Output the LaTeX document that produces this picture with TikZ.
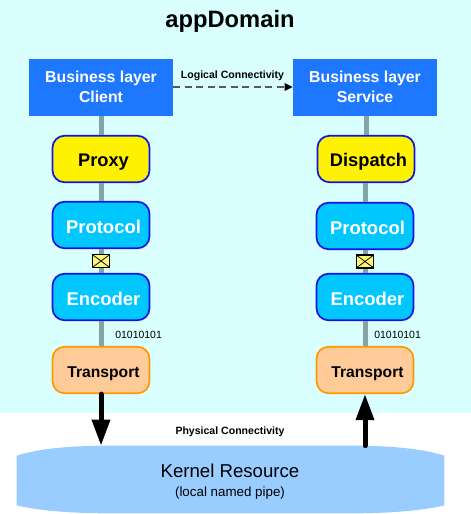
\documentclass[tikz,border=0pt]{standalone}
\usepackage{fontspec}
\setsansfont{Liberation Sans}
\usetikzlibrary{backgrounds, arrows.meta, positioning, calc}
\definecolor{zona}{HTML}{D9FFFF}
\definecolor{azul}{HTML}{1E78FF}
\definecolor{ciano}{HTML}{00C8FF}
\definecolor{borda}{HTML}{1414E6}
\definecolor{pele}{HTML}{FFCC99}
\definecolor{laranja}{HTML}{FF9900}
\definecolor{nucleo}{HTML}{99CCFF}
\definecolor{haste}{HTML}{86A3A8}
\tikzset{
  biz/.style = {rectangle, fill=azul, text=white, align=center, inner sep=0pt,
    minimum width=28.8mm, minimum height=11.4mm, font=\sffamily\bfseries\fontsize{9}{11}\selectfont},
  caixa/.style = {rectangle, rounded corners=2.4mm, draw=borda, line width=0.35mm,
    inner sep=0pt, minimum width=19.4mm, minimum height=9.3mm,
    execute at begin node={\hspace*{1mm}}},
  proxy/.style = {caixa, fill=yellow, text height=3.3mm, text depth=0.3mm,
    font=\sffamily\bfseries\fontsize{10.4}{12}\selectfont},
  proto/.style = {caixa, fill=ciano, text=white, text height=3.55mm, text depth=0.3mm,
    font=\sffamily\bfseries\fontsize{10.5}{12}\selectfont},
  transp/.style = {caixa, draw=laranja, fill=pele, text height=3mm, text depth=0.2mm,
    font=\sffamily\bfseries\fontsize{8.9}{11}\selectfont},
  bits/.style = {font=\sffamily\fontsize{5.95}{7}\selectfont, anchor=west, inner sep=0pt},
  rot/.style = {font=\sffamily\bfseries\fontsize{6}{8}\selectfont, inner sep=0pt},
  liga/.style = {draw=haste, line width=1mm},
  seta/.style = {-{Triangle[length=5.2mm, width=3.5mm]}, line width=1mm, line cap=round, draw=black},
  tracos/.style = {dash pattern=on 1.4mm off 0.9mm, draw=black!65, line width=0.35mm,
    -{Triangle[length=1.6mm, width=1.5mm, black]}},
  carta/.style = {rectangle, draw=black, line width=0.25mm, fill=yellow!55, inner sep=0pt,
    minimum width=3.5mm, minimum height=2.6mm,
    path picture={\draw [line width=0.15mm]
      (path picture bounding box.north west) -- (path picture bounding box.center)
      -- (path picture bounding box.north east)
      (path picture bounding box.south west) -- (path picture bounding box.center)
      -- (path picture bounding box.south east);}}
}
\begin{document}
\begin{tikzpicture}[x=0.2mm, y=-0.2mm]
  \useasboundingbox (0,0) rectangle (471,514);
  \fill [zona] (0,0) rectangle (471,413);
  \node [font=\sffamily\bfseries\fontsize{13.5}{16}\selectfont, inner sep=0pt] (titulo) at (230,21) {appDomain};

  \node [biz] (clienteb) at (101,87) {Business layer\\Client};
  \node [biz] (servicob) at (365,87) {Business layer\\Service};
  \node [proxy] (proxy) at (101,159) {Proxy};
  \node [proxy] (dispatch) at (366,159) {Dispatch};
  \node [proto] (protoc) at (101,225) {Protocol};
  \node [proto] (protos) at (365,226) {Protocol};
  \node [proto] (encc) at (101,297) {Encoder};
  \node [proto] (encs) at (365,297) {Encoder};
  \node [transp] (transc) at (101,370) {Transport};
  \node [transp] (transs) at (365,370) {Transport};

  \node [minimum width=85.4mm, minimum height=13.4mm, inner sep=0pt] (kernel) at (230.5,479.5) {};
  \begin{scope}[on background layer]
    \fill [nucleo] ($(kernel.north west)+(0,10)$)
      .. controls ($(kernel.north west)+(25,2)$) and ($(kernel.north west)+(60,0)$) .. ($(kernel.north west)+(95,0)$)
      -- ($(kernel.north east)+(-95,0)$)
      .. controls ($(kernel.north east)+(-60,0)$) and ($(kernel.north east)+(-25,2)$) .. ($(kernel.north east)+(0,10)$)
      -- ($(kernel.south east)+(0,-8)$)
      .. controls ($(kernel.south east)+(-25,-2)$) and ($(kernel.south east)+(-60,0)$) .. ($(kernel.south east)+(-95,0)$)
      -- ($(kernel.south west)+(95,0)$)
      .. controls ($(kernel.south west)+(60,0)$) and ($(kernel.south west)+(25,-2)$) .. ($(kernel.south west)+(0,-8)$)
      -- cycle;
  \end{scope}
  \node [font=\sffamily\fontsize{10.6}{13}\selectfont, inner sep=0pt] (krot) at (230,471) {Kernel Resource};
  \node [font=\sffamily\fontsize{7.6}{9}\selectfont, inner sep=0pt, below=1.6mm of krot] (ksub) {(local named pipe)};

  \foreach \a/\b in {clienteb/proxy, proxy/protoc, protoc/encc, encc/transc,
      servicob/dispatch, dispatch/protos, protos/encs, encs/transs}
    \draw [liga] (\a.south -| \b.south) -- (\b.north);

  \node [carta] (cartac) at ($(protoc.south)!0.5!(encc.north)$) {};
  \node [carta] (cartas) at ($(protos.south)!0.5!(encs.north)$) {};
  \node [bits] (bitsc) at (115,335) {01010101};
  \node [bits] (bitss) at (374,335) {01010101};

  \node [rot] (logica) at (232.5,76) {Logical Connectivity};
  \node [rot] (fisica) at (230,431.5) {Physical Connectivity};
  \draw [tracos] (clienteb) -- (servicob);

  \draw [seta] (transc.south) -- (transc.south |- kernel.north);
  \draw [seta] (transs.south |- kernel.north) -- (transs.south);
\end{tikzpicture}
\end{document}
